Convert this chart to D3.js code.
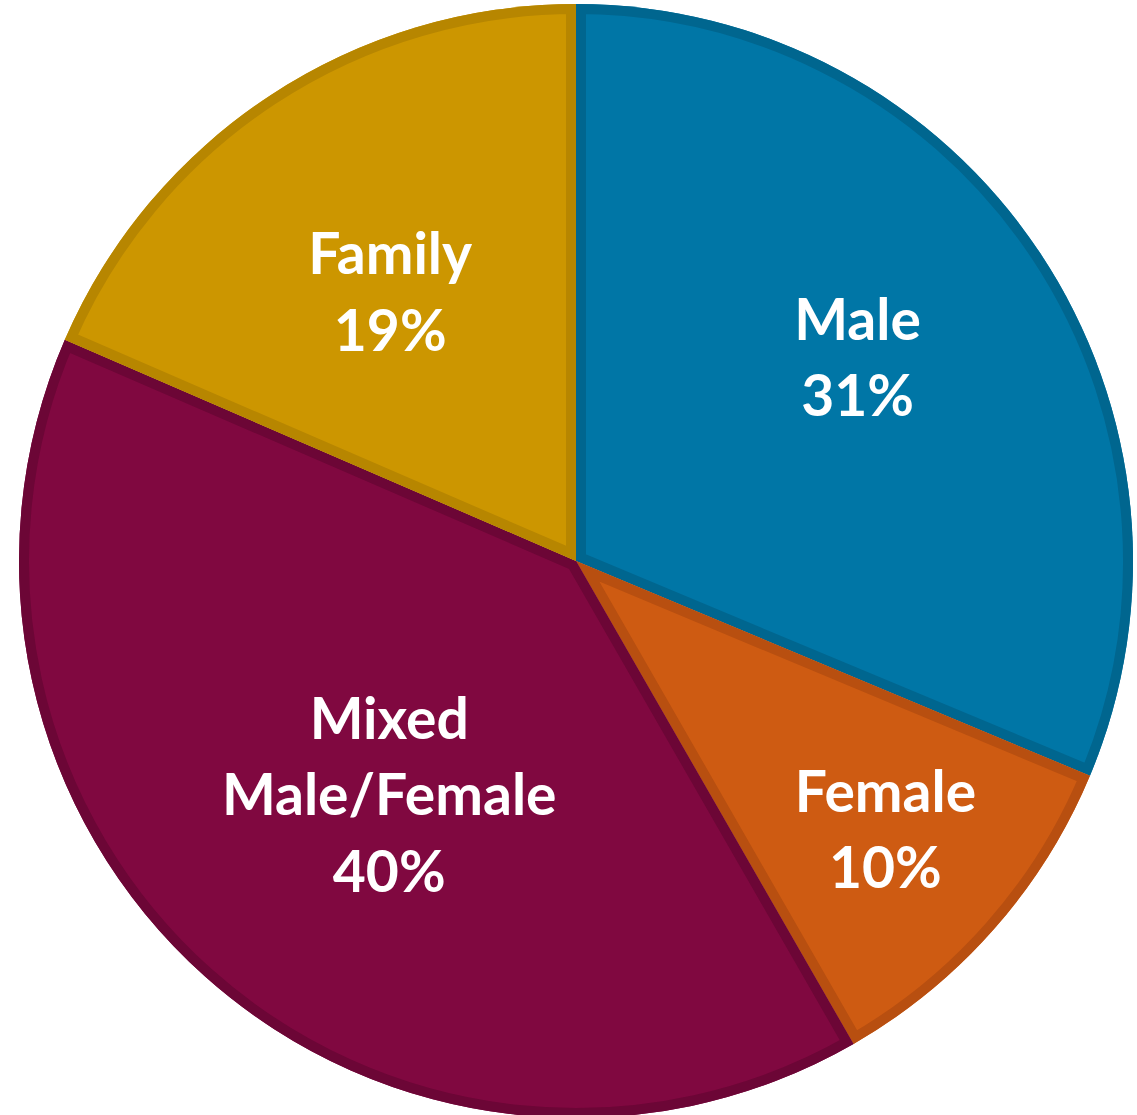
<!DOCTYPE html>
<html>
<head>
<meta charset="utf-8">
<script src="https://cdn.jsdelivr.net/npm/d3@7"></script>
<style>
  html, body { margin: 0; padding: 0; background: #ffffff; }
  svg { display: block; }
</style>
</head>
<body>
<svg id="chart" width="1137" height="1115"></svg>
<script>
// ---- data ----
const categories = ["Male", "Female", "Mixed Male/Female", "Family"];
const labelLines = [["Male"], ["Female"], ["Mixed", "Male/Female"], ["Family"]];
const values = [31.3, 10.4, 39.8, 18.5];
const fillColors = ["#0076A6", "#CE5B12", "#800840", "#CC9600"];
const edgeColors = ["#00668F", "#B84F10", "#6C0636", "#B78600"];

// ---- layout ----
const W = 1137, H = 1115;
const cx = 576, cy = 561, R = 557;
const border = 10;
const labelRadius = [0.623, 0.736, 0.538, 0.586];
const labelAngleShift = [-2.1, -0.4, -3.2, -1.4]; // degrees
const fontSize = 57, lineGap = 76.5;

const svg = d3.select("#chart");
const g = svg.append("g").attr("transform", `translate(${cx},${cy})`);

const pie = d3.pie().sort(null).value(d => d.value);
const data = categories.map((c, i) => ({ name: c, value: values[i], i }));
const arcs = pie(data);
const arc = d3.arc().innerRadius(0).outerRadius(R);

const defs = svg.append("defs");
arcs.forEach((a, i) => {
  defs.append("clipPath").attr("id", "clip" + i)
    .append("path").attr("d", arc(a));
});

const slices = g.selectAll("g.slice").data(arcs).enter().append("g").attr("class", "slice");
slices.append("path")
  .attr("d", arc)
  .attr("fill", d => fillColors[d.data.i]);
slices.append("path")
  .attr("d", arc)
  .attr("fill", "none")
  .attr("stroke", d => edgeColors[d.data.i])
  .attr("stroke-width", border * 2)
  .attr("stroke-linejoin", "miter")
  .attr("clip-path", d => `url(#clip${d.data.i})`);

// labels
arcs.forEach((a, i) => {
  const mid = (a.startAngle + a.endAngle) / 2 + labelAngleShift[i] * Math.PI / 180;
  const r = R * labelRadius[i];
  const x = Math.sin(mid) * r;
  const y = -Math.cos(mid) * r;
  const lines = labelLines[i].concat([Math.round(values[i]) + "%"]);
  const n = lines.length;
  const t = g.append("text")
    .attr("text-anchor", "middle")
    .attr("font-family", "Lato, 'Open Sans', sans-serif")
    .attr("font-weight", "bold")
    .attr("font-size", fontSize)
    .attr("fill", "#ffffff");
  lines.forEach((ln, k) => {
    t.append("tspan")
      .attr("x", x)
      .attr("y", y + (k - (n - 1) / 2) * lineGap + 20)
      .text(ln);
  });
});
</script>
</body>
</html>
